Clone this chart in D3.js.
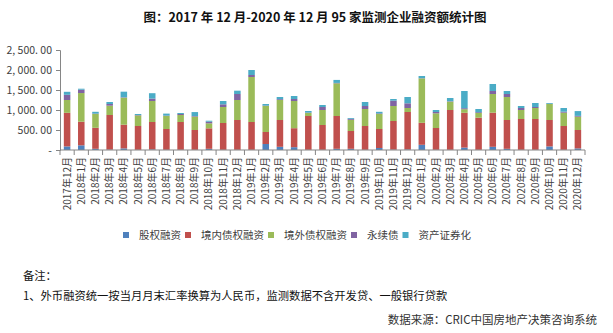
<!DOCTYPE html>
<html>
<head>
<meta charset="utf-8">
<script src="https://cdn.jsdelivr.net/npm/d3@7/dist/d3.min.js"></script>
<style>
  html, body { margin: 0; padding: 0; background: #fff; }
  svg { display: block; }
  text { font-family: "Noto Sans CJK SC", "Noto Sans", sans-serif; }
</style>
</head>
<body>
<svg id="chart" width="613" height="333"></svg>
<script>
// Monthly financing of 95 monitored developers (亿元)
const months = [
  "2017年12月", "2018年1月", "2018年2月", "2018年3月", "2018年4月", "2018年5月",
  "2018年6月", "2018年7月", "2018年8月", "2018年9月", "2018年10月", "2018年11月",
  "2018年12月", "2019年1月", "2019年2月", "2019年3月", "2019年4月", "2019年5月",
  "2019年6月", "2019年7月", "2019年8月", "2019年9月", "2019年10月", "2019年11月",
  "2019年12月", "2020年1月", "2020年2月", "2020年3月", "2020年4月", "2020年5月",
  "2020年6月", "2020年7月", "2020年8月", "2020年9月", "2020年10月", "2020年11月",
  "2020年12月"
];
const equity = [90, 117, 30, 10, 40, 5, 15, 5, 5, 5, 30, 5, 5, 5, 150, 80, 70, 5, 5, 30,
  30, 5, 50, 10, 15, 130, 5, 5, 60, 5, 80, 30, 5, 5, 90, 5, 40];
const domesticDebt = [840, 590, 525, 865, 593, 595, 685, 520, 695, 495, 512, 670, 745, 695,
  300, 670, 475, 845, 620, 820, 445, 595, 475, 715, 935, 550, 545, 995, 870, 803, 853, 720,
  770, 770, 660, 595, 460];
const overseasDebt = [320, 717, 345, 233, 675, 265, 525, 325, 175, 333, 125, 400, 500, 1125,
  650, 500, 680, 75, 375, 817, 280, 425, 375, 375, 100, 1110, 367, 210, 90, 117, 467, 575,
  225, 275, 400, 333, 333];
const perpetual = [130, 83, 10, 42, 10, 10, 60, 10, 25, 15, 40, 67, 150, 50, 10, 20, 50, 10,
  75, 10, 25, 75, 15, 133, 117, 5, 33, 10, 25, 20, 75, 75, 50, 25, 5, 25, 20];
const securitization = [75, 25, 45, 50, 140, 25, 135, 50, 25, 100, 25, 83, 83, 125, 40, 55,
  75, 40, 50, 75, 20, 100, 40, 42, 158, 55, 50, 80, 430, 80, 175, 75, 50, 100, 20, 92, 120];
const seriesNames = ["股权融资", "境内债权融资", "境外债权融资", "永续债", "资产证券化"];
const yTicks = [0, 500, 1000, 1500, 2000, 2500];

const colors = ["#4F81BD", "#C0504D", "#9BBB59", "#8064A2", "#4BACC6"];
const seriesValues = [equity, domesticDebt, overseasDebt, perpetual, securitization];

const table = months.map((m, i) => {
  const row = { month: m };
  seriesNames.forEach((s, j) => { row[s] = seriesValues[j][i]; });
  return row;
});

const svg = d3.select("#chart");
const plot = { left: 60, right: 585, top: 50, bottom: 150 };

const x = d3.scaleBand().domain(months).range([plot.left, plot.right])
  .paddingInner(0.54).paddingOuter(0.27);
const y = d3.scaleLinear().domain([0, 2500]).range([plot.bottom, plot.top]);

// Title
svg.append("text")
  .attr("x", 315).attr("y", 22)
  .attr("text-anchor", "middle")
  .attr("font-size", 12.5).attr("font-weight", "bold").attr("fill", "#111")
  .text("图：2017 年 12 月-2020 年 12 月 95 家监测企业融资额统计图");

// Stacked bars
const stacked = d3.stack().keys(seriesNames)(table);
svg.append("g").selectAll("g")
  .data(stacked).join("g")
  .attr("fill", (d, i) => colors[i])
  .selectAll("rect")
  .data(d => d).join("rect")
  .attr("x", d => x(d.data.month))
  .attr("width", x.bandwidth())
  .attr("y", d => y(d[1]))
  .attr("height", d => Math.max(0, y(d[0]) - y(d[1])));

// Y axis
const yAxis = d3.axisLeft(y).tickValues(yTicks).tickSize(4).tickPadding(4)
  .tickFormat(d => d === 0 ? "-" : d3.format(",.2f")(d).replace(/([,.])/g, "$1 "));
const gy = svg.append("g").attr("transform", `translate(${plot.left},0)`).call(yAxis);
gy.select(".domain").attr("stroke", "#868686");
gy.selectAll(".tick line").attr("stroke", "#868686");
gy.selectAll(".tick text").attr("font-size", 10.5).attr("fill", "#404040")
  .attr("font-family", "'Liberation Sans', Arial, sans-serif");
gy.selectAll(".tick").filter(d => d === 0).select("line").remove();

// X axis with ticks at category boundaries
const gx = svg.append("g").attr("transform", `translate(0,${plot.bottom})`);
gx.append("line").attr("x1", plot.left).attr("x2", plot.right)
  .attr("stroke", "#868686");
const boundaries = d3.range(months.length + 1).map(i => plot.left + i * (plot.right - plot.left) / months.length);
gx.selectAll(".bt").data(boundaries).join("line")
  .attr("x1", d => d).attr("x2", d => d).attr("y1", 0).attr("y2", 5)
  .attr("stroke", "#868686");
gx.selectAll(".lbl").data(months).join("text")
  .attr("transform", d => `translate(${x(d) + x.bandwidth() / 2},7) rotate(-90)`)
  .attr("text-anchor", "end").attr("dy", "0.35em")
  .attr("font-size", 10).attr("fill", "#404040")
  .text(d => d);

// Legend
const legend = svg.append("g").attr("transform", "translate(123,235)");
let lx = 0;
seriesNames.forEach((name, i) => {
  const g = legend.append("g").attr("transform", `translate(${lx},0)`);
  g.append("rect").attr("x", 0).attr("y", -3).attr("width", 6).attr("height", 6)
    .attr("fill", colors[i]);
  const t = g.append("text").attr("x", 16).attr("dy", "0.35em")
    .attr("font-size", 10.5).attr("fill", "#404040").text(name);
  lx += 16 + t.node().getComputedTextLength() + 4;
});

// Notes and source
svg.append("text").attr("x", 23).attr("y", 276).attr("dy", "0.35em")
  .attr("font-size", 11.3).attr("fill", "#111").text("备注：");
svg.append("text").attr("x", 23).attr("y", 296).attr("dy", "0.35em")
  .attr("font-size", 11.3).attr("fill", "#111")
  .text("1、外币融资统一按当月月末汇率换算为人民币，监测数据不含开发贷、一般银行贷款");
svg.append("text").attr("x", 597).attr("y", 320).attr("dy", "0.35em")
  .attr("text-anchor", "end")
  .attr("font-size", 11.5).attr("fill", "#333")
  .text("数据来源：CRIC中国房地产决策咨询系统");
</script>
</body>
</html>
